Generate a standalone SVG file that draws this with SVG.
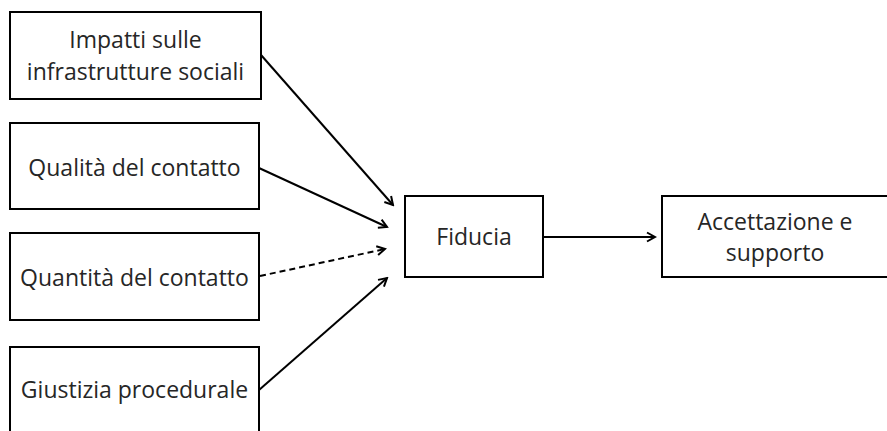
<svg xmlns="http://www.w3.org/2000/svg" width="887" height="431" viewBox="0 0 887 431">
  <style>
    .box { fill: #ffffff; stroke: #000000; stroke-width: 2; }
    .label { font-family: "Open Sans", "Noto Sans", sans-serif; font-size: 23px; fill: #262626; text-anchor: middle; }
    .link { fill: none; stroke: #000000; stroke-width: 2; }
    .dashed { stroke-dasharray: 6 4; }
  </style>
  <defs>
    <marker id="arrow" viewBox="0 0 12 12" refX="10" refY="6" markerWidth="12" markerHeight="12" markerUnits="userSpaceOnUse" orient="auto">
      <path d="M2,1.5 L10,6 L2,10.5" fill="none" stroke="#000000" stroke-width="2"/>
    </marker>
  </defs>
  <rect width="887" height="431" fill="#ffffff"/>

  <g id="node-impatti">
    <rect class="box" x="10" y="12" width="251" height="87"/>
    <text class="label" x="135.5" y="48">Impatti sulle</text>
    <text class="label" x="135.5" y="80">infrastrutture sociali</text>
  </g>
  <g id="node-qualita">
    <rect class="box" x="10" y="123" width="249" height="86"/>
    <text class="label" x="134.5" y="176">Qualità del contatto</text>
  </g>
  <g id="node-quantita">
    <rect class="box" x="10" y="233" width="249" height="87"/>
    <text class="label" x="134.5" y="286">Quantità del contatto</text>
  </g>
  <g id="node-giustizia">
    <rect class="box" x="10" y="347" width="249" height="90"/>
    <text class="label" x="134.5" y="398">Giustizia procedurale</text>
  </g>
  <g id="node-fiducia">
    <rect class="box" x="405" y="196" width="138" height="81"/>
    <text class="label" x="474" y="245">Fiducia</text>
  </g>
  <g id="node-accettazione">
    <rect class="box" x="662" y="196" width="228" height="81"/>
    <text class="label" x="775" y="230">Accettazione e</text>
    <text class="label" x="775" y="261">supporto</text>
  </g>

  <g id="connectors">
    <line class="link" x1="261" y1="55" x2="393" y2="205" marker-end="url(#arrow)"/>
    <line class="link" x1="259" y1="168" x2="387" y2="227" marker-end="url(#arrow)"/>
    <line class="link dashed" x1="260" y1="276" x2="385" y2="249" marker-end="url(#arrow)"/>
    <line class="link" x1="259" y1="390" x2="387" y2="278" marker-end="url(#arrow)"/>
    <line class="link" x1="543" y1="237" x2="655" y2="237" marker-end="url(#arrow)"/>
  </g>
</svg>
